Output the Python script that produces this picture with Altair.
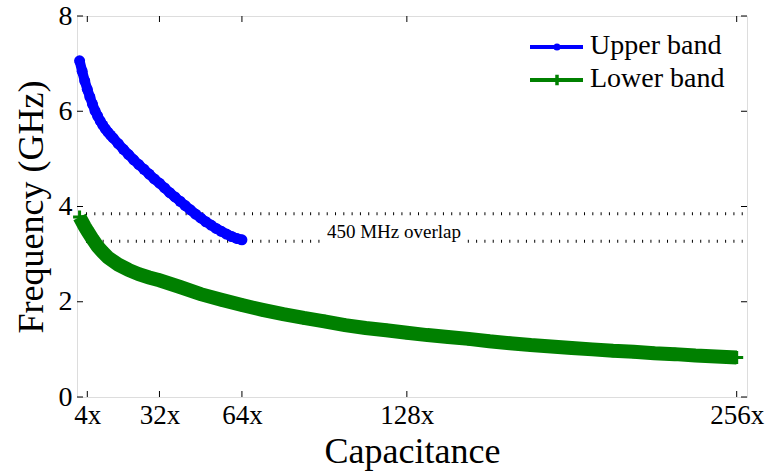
import altair as alt
import pandas as pd

# Tuning curves: resonant frequency versus capacitance setting
upper_cap = [1, 2, 3, 4, 5, 6, 7, 8, 9, 10, 11, 12, 13, 14, 16, 18, 20, 22, 24, 26,
             28, 30, 32, 34, 36, 38, 40, 42, 44, 46, 48, 50, 52, 54, 56, 58, 60, 62, 64]
upper_ghz = [7.06, 6.84, 6.64, 6.46, 6.30, 6.15, 6.01, 5.90, 5.80, 5.71, 5.63, 5.56, 5.50,
             5.44, 5.32, 5.20, 5.09, 4.98, 4.88, 4.78, 4.68, 4.58, 4.49, 4.39, 4.29, 4.20,
             4.11, 4.02, 3.93, 3.84, 3.76, 3.68, 3.61, 3.54, 3.48, 3.42, 3.37, 3.33, 3.30]

lower_cap = [1, 2, 3, 4, 6, 8, 10, 12, 16, 20, 24, 28, 32, 40, 48, 56, 64, 72, 80, 88,
             96, 104, 112, 120, 128, 136, 144, 152, 160, 168, 176, 184, 192, 200, 208,
             216, 224, 232, 240, 248, 256]
lower_ghz = [3.78, 3.68, 3.58, 3.49, 3.32, 3.16, 3.04, 2.93, 2.78, 2.67, 2.58, 2.51, 2.45,
             2.31, 2.16, 2.04, 1.93, 1.83, 1.74, 1.66, 1.59, 1.51, 1.45, 1.40, 1.35, 1.30,
             1.26, 1.22, 1.17, 1.13, 1.09, 1.06, 1.03, 1.00, 0.97, 0.95, 0.92, 0.90, 0.87,
             0.85, 0.83]

# Edges of the band covered by both curves
overlap_ghz = [3.85, 3.27]
overlap_label = "450 MHz overlap"

x_ticks = [4, 32, 64, 128, 256]
y_ticks = [0, 2, 4, 6, 8]
series_names = ["Upper band", "Lower band"]
series_colors = ["#0000ff", "#008000"]

FONT = "'Liberation Serif', 'Times New Roman', Times, serif"
W, H = 670, 381

upper = pd.DataFrame({"cap": upper_cap, "ghz": upper_ghz})
lower = pd.DataFrame({"cap": lower_cap, "ghz": lower_ghz})
overlap = pd.DataFrame({"ghz": overlap_ghz, "x0": [3.5] * 2, "x1": [260] * 2})
xt = pd.DataFrame({"cap": x_ticks})
yt = pd.DataFrame({"ghz": y_ticks})

xs = alt.Scale(domain=[0, 260], nice=False, zero=False)
ys = alt.Scale(domain=[0, 8], nice=False, zero=False)

x_axis = alt.Axis(values=x_ticks, labelExpr="datum.value + 'x'", grid=False, domain=False,
                  ticks=False, labelFont=FONT, labelFontSize=27, labelColor="black",
                  labelPadding=5, labelFlush=False, title="Capacitance", titleFont=FONT,
                  titleFontSize=36, titleFontWeight="normal", titleColor="black",
                  titlePadding=6)
y_axis = alt.Axis(values=y_ticks, grid=False, domain=False, ticks=False, labelFont=FONT,
                  labelFontSize=28, labelColor="black", labelPadding=5, labelFlush=False,
                  title="Frequency (GHz)", titleFont=FONT, titleFontSize=36,
                  titleFontWeight="normal", titleColor="black", titlePadding=8)


def X(field="cap"):
    return alt.X(f"{field}:Q", scale=xs, axis=x_axis)


def Y(field="ghz"):
    return alt.Y(f"{field}:Q", scale=ys, axis=y_axis)


base_up = alt.Chart(upper)
upper_line = base_up.mark_line(color=series_colors[0], strokeWidth=10, clip=False).encode(
    x=X(), y=Y())
upper_pts = base_up.mark_point(shape="circle", filled=True, size=121, opacity=1,
                               color=series_colors[0], clip=False).encode(x=X(), y=Y())

base_lo = alt.Chart(lower)
lower_line = base_lo.mark_line(color=series_colors[1], strokeWidth=14, clip=False).encode(
    x=X(), y=Y())
PLUS = "M-1,0L1,0M0,-1L0,1"
lower_pts = base_lo.mark_point(shape=PLUS, filled=False, size=169, strokeWidth=3,
                               opacity=1, color=series_colors[1], clip=False).encode(
    x=X(), y=Y())

dotted = alt.Chart(overlap).mark_rule(color="black", strokeWidth=3, strokeDash=[1, 7.3]).encode(
    x=X("x0"), x2="x1:Q", y=Y())

label_df = pd.DataFrame({"cap": [123], "ghz": [3.34], "t": [overlap_label]})
label_bg = alt.Chart(label_df).mark_rect(color="white").encode(
    x=alt.value(245), x2=alt.value(390), y=alt.value(221), y2=alt.value(229))
label = alt.Chart(label_df).mark_text(font=FONT, fontSize=19, baseline="alphabetic",
                                      align="center", color="black").encode(
    x=X(), y=Y(), text="t:N")

# Inward ticks on all four sides of the frame
TL = 6
tick_style = dict(color="black", strokeWidth=1)
xb = alt.Chart(xt).mark_rule(**tick_style).encode(
    x=X(), y=alt.value(H), y2=alt.value(H - TL))
xtop = alt.Chart(xt).mark_rule(**tick_style).encode(
    x=X(), y=alt.value(0), y2=alt.value(TL))
yl = alt.Chart(yt).mark_rule(**tick_style).encode(
    y=Y(), x=alt.value(0), x2=alt.value(TL))
yr = alt.Chart(yt).mark_rule(**tick_style).encode(
    y=Y(), x=alt.value(W), x2=alt.value(W - TL))

# Legend in the upper right corner
leg_y = [31, 64]
leg_layers = []
for i, name in enumerate(series_names):
    d = pd.DataFrame({"name": [name]})
    leg_layers.append(alt.Chart(d).mark_rule(color=series_colors[i], strokeWidth=4).encode(
        x=alt.value(453), x2=alt.value(506), y=alt.value(leg_y[i])))
    if i == 0:
        leg_layers.append(alt.Chart(d).mark_point(shape="circle", filled=True, size=50,
                                                  opacity=1, color=series_colors[i]).encode(
            x=alt.value(480), y=alt.value(leg_y[i])))
    else:
        leg_layers.append(alt.Chart(d).mark_point(shape=PLUS, filled=False, size=110,
                                                  strokeWidth=3.5, opacity=1,
                                                  color=series_colors[i]).encode(
            x=alt.value(480), y=alt.value(leg_y[i])))
    leg_layers.append(alt.Chart(d).mark_text(font=FONT, fontSize=28, align="left",
                                             baseline="middle", color="black").encode(
        x=alt.value(513), y=alt.value(leg_y[i] - 1), text="name:N"))

chart = alt.layer(
    upper_line, dotted, label_bg, label, lower_line, lower_pts, upper_pts,
    xb, xtop, yl, yr, *leg_layers
).properties(
    width=W, height=H,
    autosize=alt.AutoSizeParams(type="none"),
    padding={"left": 77, "top": 16, "right": 20, "bottom": 77},
).configure_view(stroke="black", strokeWidth=1.5).configure(background="white")

chart.save("out.html", embed_options={"renderer": "svg", "actions": False})
